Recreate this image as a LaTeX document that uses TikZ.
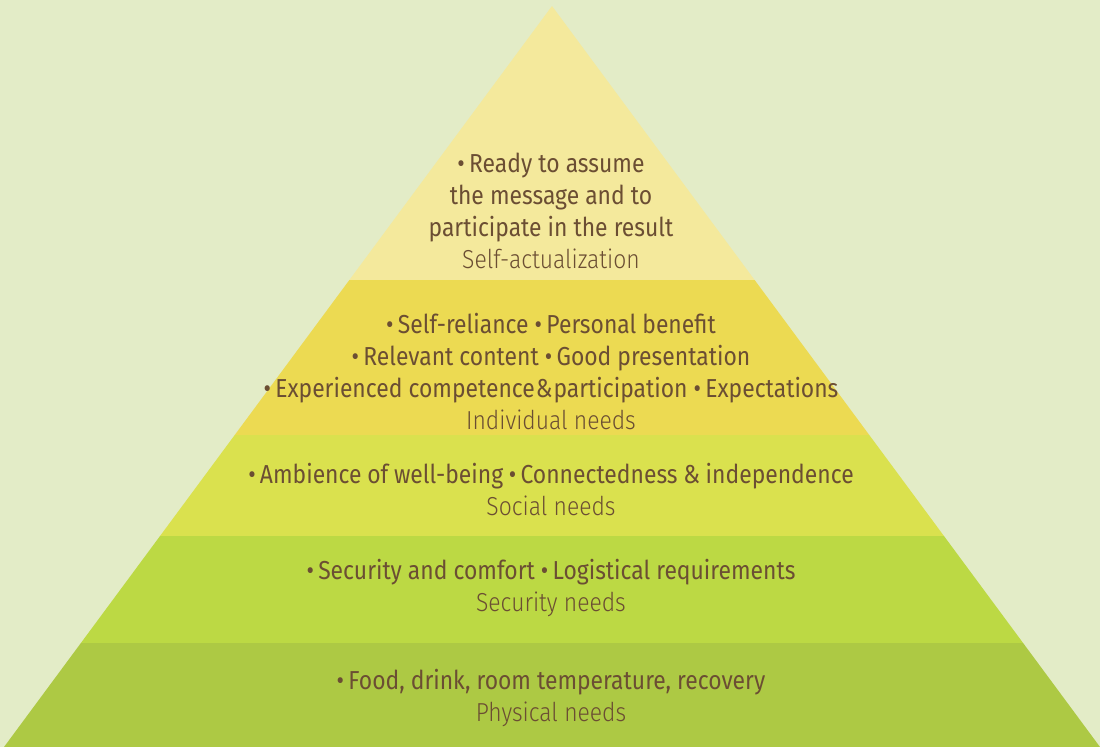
\documentclass[tikz,border=0pt]{standalone}
\usepackage{fontspec}
\setmainfont{Fira Sans}[FakeStretch=0.88]
\newfontfamily\lightfont{Fira Sans Light}[FakeStretch=0.88]
\usetikzlibrary{positioning}
\definecolor{bgcol}{HTML}{E3ECC7}
\definecolor{selfcol}{HTML}{F4E99C}
\definecolor{indcol}{HTML}{ECDA52}
\definecolor{soccol}{HTML}{DAE14E}
\definecolor{seccol}{HTML}{BCD944}
\definecolor{phycol}{HTML}{ADC944}
\definecolor{txtcol}{HTML}{6B4E33}
\tikzset{
  layertext/.style={align=center,text=txtcol,inner sep=0pt,
    font=\fontsize{26}{32}\selectfont}
}

\begin{document}
\begin{tikzpicture}[x=1pt,y=-1pt]
            \def\pyramid{(552,6) -- (4,747) -- (1100,747) -- cycle}
            \fill[bgcol] (0,0) rectangle (1100,747);
            \useasboundingbox (0,0) rectangle (1100,747);
            \begin{scope}
                \clip \pyramid;
                \fill[selfcol] (0,0) rectangle (1100,280);
                \fill[indcol] (0,280) rectangle (1100,435);
                \fill[soccol] (0,435) rectangle (1100,536);
                \fill[seccol] (0,536) rectangle (1100,643);
                \fill[phycol] (0,643) rectangle (1100,747);
            \end{scope}
            % levels, top to bottom
            \node[layertext] (self) at (551,211) {•\,Ready to assume\\ the message and to\\ participate in the result\\ {\lightfont Self-actualization}};
            \node[layertext] (indiv) at (551,371) {•\,Self-reliance •\,Personal benefit\\ •\,Relevant content •\,Good presentation\\ •\,Experienced competence\kern1pt\&\kern1pt participation •\,Expectations\\ {\lightfont Individual needs}};
            \node[layertext] (social) at (551,489) {\spaceskip=0.22em •\,Ambience of well-being •\,Connectedness \& independence\\ {\lightfont Social needs}};
            \node[layertext] (secur) at (551,588) {•\,Security and comfort •\,Logistical requirements\\ {\lightfont Security needs}};
            \node[layertext] (phys) at (551,698) {•\,Food, drink, room temperature, recovery\\ {\lightfont Physical needs}};
        \end{tikzpicture}
\end{document}
